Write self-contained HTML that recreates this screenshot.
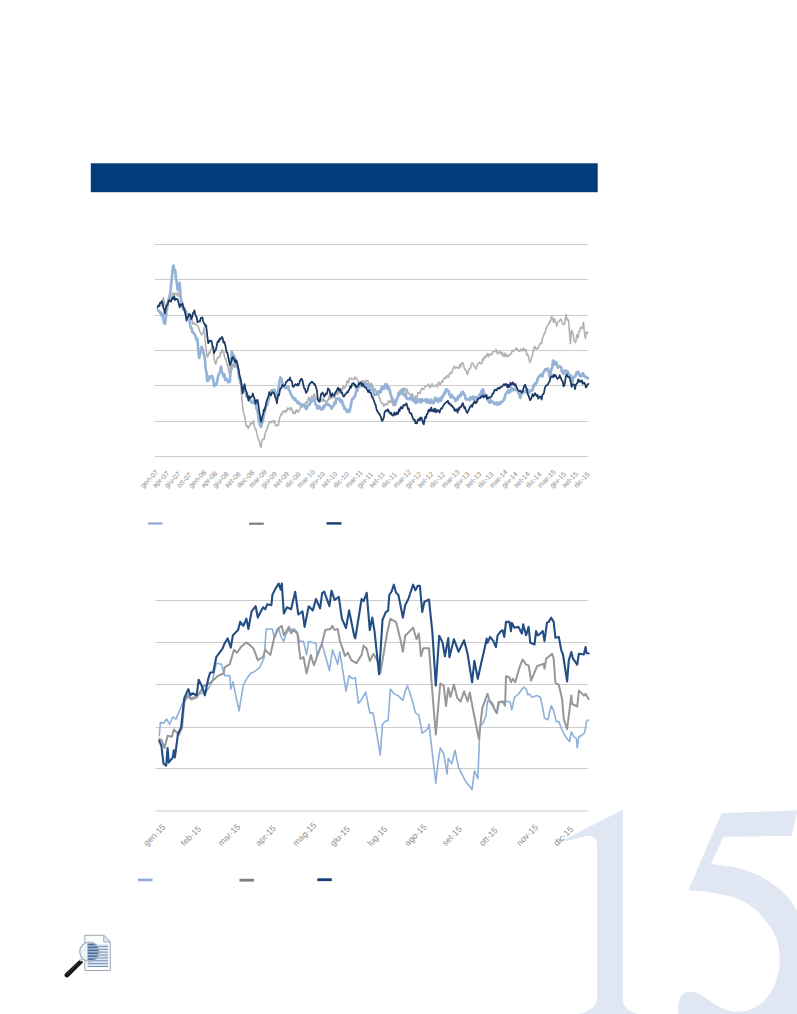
<!DOCTYPE html>
<html><head><meta charset="utf-8"><style>
html,body{margin:0;padding:0;background:#fff;width:797px;height:1014px;overflow:hidden;}
svg{position:absolute;left:0;top:0;display:block;}
</style></head><body>
<svg width="797" height="1014" viewBox="0 0 797 1014">

<path d="M622.90,809.50 L622.90,995.00 L622.93,995.67 L622.94,996.59 L622.95,997.67 L622.98,998.88 L623.04,1000.12 L623.15,1001.35 L623.33,1002.50 L623.60,1003.50 L623.96,1004.39 L624.38,1005.23 L624.86,1006.04 L625.41,1006.81 L626.00,1007.54 L626.63,1008.23 L627.30,1008.89 L628.00,1009.50 L628.75,1010.07 L629.57,1010.59 L630.43,1011.06 L631.34,1011.50 L632.26,1011.91 L633.19,1012.29 L634.11,1012.65 L635.00,1013.00 L635.92,1013.34 L636.91,1013.65 L637.93,1013.95 L638.94,1014.22 L639.89,1014.46 L640.74,1014.68 L641.46,1014.86 L642.00,1015.00 L642.00,1020.00 L574.00,1020.00 L574.00,1015.00 L574.62,1014.86 L575.44,1014.68 L576.41,1014.46 L577.50,1014.22 L578.65,1013.95 L579.81,1013.65 L580.95,1013.34 L582.00,1013.00 L583.02,1012.65 L584.05,1012.29 L585.10,1011.91 L586.14,1011.50 L587.16,1011.06 L588.15,1010.59 L589.11,1010.07 L590.00,1009.50 L590.86,1008.89 L591.71,1008.23 L592.53,1007.54 L593.31,1006.81 L594.04,1006.04 L594.71,1005.23 L595.30,1004.39 L595.80,1003.50 L596.20,1002.50 L596.49,1001.35 L596.71,1000.12 L596.86,998.88 L596.97,997.67 L597.05,996.59 L597.12,995.67 L597.20,995.00 L597.20,850.00 L597.19,849.36 L597.21,848.48 L597.22,847.43 L597.23,846.28 L597.22,845.10 L597.16,843.94 L597.06,842.89 L596.90,842.00 L596.68,841.25 L596.43,840.56 L596.14,839.93 L595.81,839.36 L595.43,838.83 L595.00,838.35 L594.53,837.90 L594.00,837.50 L593.41,837.13 L592.74,836.81 L592.02,836.52 L591.26,836.28 L590.46,836.09 L589.64,835.94 L588.82,835.85 L588.00,835.80 L587.12,835.84 L586.16,835.96 L585.14,836.16 L584.12,836.39 L583.16,836.64 L582.28,836.88 L581.55,837.07 L581.00,837.20 L565.00,841.60 L564.60,839.60 Z" fill="#e0e7f3"/>
<path d="M721.40,813.30 L797.50,810.30 L791.60,835.90 L723.70,836.80 L710.90,864.00 L711.55,864.08 L712.35,864.18 L713.30,864.30 L714.39,864.44 L715.61,864.59 L716.96,864.77 L718.42,864.97 L720.00,865.20 L721.73,865.43 L723.62,865.65 L725.66,865.89 L727.82,866.15 L730.06,866.46 L732.35,866.82 L734.68,867.26 L737.00,867.80 L739.39,868.43 L741.91,869.16 L744.50,869.95 L747.12,870.81 L749.73,871.71 L752.28,872.65 L754.72,873.62 L757.00,874.60 L759.12,875.59 L761.12,876.62 L763.04,877.67 L764.88,878.76 L766.67,879.88 L768.44,881.04 L770.21,882.25 L772.00,883.50 L773.82,884.79 L775.64,886.10 L777.46,887.45 L779.25,888.84 L781.01,890.28 L782.73,891.78 L784.40,893.35 L786.00,895.00 L787.54,896.73 L789.03,898.55 L790.48,900.43 L791.88,902.38 L793.23,904.37 L794.53,906.39 L795.79,908.44 L797.00,910.50 L798.20,912.71 L799.40,915.14 L800.57,917.69 L801.69,920.22 L802.72,922.63 L803.63,924.81 L804.40,926.64 L805.00,928.00 L805.00,1020.00 L678.00,1020.00 L678.50,1014.00 L678.47,1013.22 L678.41,1012.17 L678.33,1010.92 L678.26,1009.53 L678.21,1008.08 L678.20,1006.63 L678.26,1005.25 L678.40,1004.00 L678.60,1002.83 L678.85,1001.66 L679.13,1000.49 L679.47,999.36 L679.87,998.27 L680.34,997.25 L680.88,996.32 L681.50,995.50 L682.22,994.77 L683.05,994.12 L683.97,993.55 L684.94,993.04 L685.96,992.62 L686.99,992.27 L688.01,992.00 L689.00,991.80 L689.96,991.68 L690.92,991.64 L691.88,991.68 L692.84,991.79 L693.83,991.98 L694.85,992.25 L695.90,992.59 L697.00,993.00 L698.15,993.51 L699.34,994.14 L700.56,994.85 L701.81,995.64 L703.09,996.47 L704.38,997.32 L705.69,998.17 L707.00,999.00 L708.33,999.84 L709.68,1000.74 L711.05,1001.66 L712.44,1002.59 L713.83,1003.51 L715.23,1004.40 L716.62,1005.23 L718.00,1006.00 L719.37,1006.71 L720.74,1007.40 L722.11,1008.05 L723.48,1008.66 L724.85,1009.23 L726.22,1009.75 L727.61,1010.20 L729.00,1010.60 L730.41,1010.94 L731.82,1011.24 L733.25,1011.48 L734.68,1011.67 L736.11,1011.80 L737.54,1011.87 L738.97,1011.87 L740.40,1011.80 L741.82,1011.67 L743.23,1011.48 L744.64,1011.23 L746.05,1010.92 L747.47,1010.53 L748.89,1010.07 L750.34,1009.53 L751.80,1008.90 L753.31,1008.19 L754.86,1007.42 L756.44,1006.57 L758.02,1005.64 L759.59,1004.63 L761.12,1003.52 L762.60,1002.31 L764.00,1001.00 L765.35,999.56 L766.66,998.00 L767.94,996.33 L769.18,994.57 L770.36,992.74 L771.48,990.85 L772.53,988.94 L773.50,987.00 L774.40,985.03 L775.23,982.98 L776.01,980.89 L776.71,978.75 L777.35,976.58 L777.91,974.39 L778.40,972.19 L778.80,970.00 L779.12,967.79 L779.38,965.54 L779.55,963.26 L779.65,960.97 L779.67,958.68 L779.62,956.42 L779.50,954.19 L779.30,952.00 L779.03,949.86 L778.70,947.75 L778.29,945.66 L777.81,943.59 L777.24,941.55 L776.59,939.52 L775.84,937.50 L775.00,935.50 L774.04,933.49 L772.95,931.48 L771.76,929.48 L770.48,927.50 L769.15,925.55 L767.77,923.64 L766.38,921.79 L765.00,920.00 L763.62,918.27 L762.23,916.58 L760.82,914.94 L759.38,913.34 L757.88,911.80 L756.33,910.31 L754.71,908.87 L753.00,907.50 L751.22,906.18 L749.38,904.91 L747.47,903.69 L745.50,902.53 L743.47,901.43 L741.38,900.39 L739.22,899.41 L737.00,898.50 L734.67,897.67 L732.21,896.91 L729.66,896.22 L727.06,895.59 L724.46,895.02 L721.88,894.48 L719.38,893.98 L717.00,893.50 L714.70,893.06 L712.41,892.66 L710.17,892.30 L707.98,891.98 L705.85,891.70 L703.81,891.44 L701.85,891.21 L700.00,891.00 L698.20,890.82 L696.43,890.68 L694.71,890.57 L693.09,890.49 L691.60,890.43 L690.28,890.38 L689.17,890.34 L688.30,890.30 Z" fill="#e0e7f3"/>
<rect x="90.8" y="163.3" width="506.9" height="28.9" fill="#003d7a"/>
<line x1="154.5" y1="244.5" x2="588.3" y2="244.5" stroke="#cdcdcd" stroke-width="1"/>
<line x1="154.5" y1="279.5" x2="588.3" y2="279.5" stroke="#cdcdcd" stroke-width="1"/>
<line x1="154.5" y1="315.5" x2="588.3" y2="315.5" stroke="#cdcdcd" stroke-width="1"/>
<line x1="154.5" y1="350.5" x2="588.3" y2="350.5" stroke="#cdcdcd" stroke-width="1"/>
<line x1="154.5" y1="385.5" x2="588.3" y2="385.5" stroke="#cdcdcd" stroke-width="1"/>
<line x1="154.5" y1="421.5" x2="588.3" y2="421.5" stroke="#cdcdcd" stroke-width="1"/>
<line x1="154.5" y1="456.5" x2="588.3" y2="456.5" stroke="#cdcdcd" stroke-width="1"/>
<line x1="155.5" y1="600.5" x2="588.2" y2="600.5" stroke="#cdcdcd" stroke-width="1"/>
<line x1="155.5" y1="642.5" x2="588.2" y2="642.5" stroke="#cdcdcd" stroke-width="1"/>
<line x1="155.5" y1="684.5" x2="588.2" y2="684.5" stroke="#cdcdcd" stroke-width="1"/>
<line x1="155.5" y1="727.5" x2="588.2" y2="727.5" stroke="#cdcdcd" stroke-width="1"/>
<line x1="155.5" y1="768.5" x2="588.2" y2="768.5" stroke="#cdcdcd" stroke-width="1"/>
<line x1="155.5" y1="811.0" x2="588.2" y2="811.0" stroke="#cdcdcd" stroke-width="1"/>
<text x="143.30" y="488.2" transform="rotate(-45 143.30 488.2)" font-family="Liberation Sans" font-size="7.0" fill="#8a8a8a">gen-07</text>
<text x="155.34" y="488.2" transform="rotate(-45 155.34 488.2)" font-family="Liberation Sans" font-size="7.0" fill="#8a8a8a">apr-07</text>
<text x="167.38" y="488.2" transform="rotate(-45 167.38 488.2)" font-family="Liberation Sans" font-size="7.0" fill="#8a8a8a">giu-07</text>
<text x="179.42" y="488.2" transform="rotate(-45 179.42 488.2)" font-family="Liberation Sans" font-size="7.0" fill="#8a8a8a">ott-07</text>
<text x="191.46" y="488.2" transform="rotate(-45 191.46 488.2)" font-family="Liberation Sans" font-size="7.0" fill="#8a8a8a">gen-08</text>
<text x="203.50" y="488.2" transform="rotate(-45 203.50 488.2)" font-family="Liberation Sans" font-size="7.0" fill="#8a8a8a">apr-08</text>
<text x="215.54" y="488.2" transform="rotate(-45 215.54 488.2)" font-family="Liberation Sans" font-size="7.0" fill="#8a8a8a">giu-08</text>
<text x="227.58" y="488.2" transform="rotate(-45 227.58 488.2)" font-family="Liberation Sans" font-size="7.0" fill="#8a8a8a">set-08</text>
<text x="239.62" y="488.2" transform="rotate(-45 239.62 488.2)" font-family="Liberation Sans" font-size="7.0" fill="#8a8a8a">dec-08</text>
<text x="251.66" y="488.2" transform="rotate(-45 251.66 488.2)" font-family="Liberation Sans" font-size="7.0" fill="#8a8a8a">mar-09</text>
<text x="263.70" y="488.2" transform="rotate(-45 263.70 488.2)" font-family="Liberation Sans" font-size="7.0" fill="#8a8a8a">giu-09</text>
<text x="275.74" y="488.2" transform="rotate(-45 275.74 488.2)" font-family="Liberation Sans" font-size="7.0" fill="#8a8a8a">set-09</text>
<text x="287.78" y="488.2" transform="rotate(-45 287.78 488.2)" font-family="Liberation Sans" font-size="7.0" fill="#8a8a8a">dic-09</text>
<text x="299.82" y="488.2" transform="rotate(-45 299.82 488.2)" font-family="Liberation Sans" font-size="7.0" fill="#8a8a8a">mar-10</text>
<text x="311.86" y="488.2" transform="rotate(-45 311.86 488.2)" font-family="Liberation Sans" font-size="7.0" fill="#8a8a8a">giu-10</text>
<text x="323.90" y="488.2" transform="rotate(-45 323.90 488.2)" font-family="Liberation Sans" font-size="7.0" fill="#8a8a8a">set-10</text>
<text x="335.94" y="488.2" transform="rotate(-45 335.94 488.2)" font-family="Liberation Sans" font-size="7.0" fill="#8a8a8a">dic-10</text>
<text x="347.98" y="488.2" transform="rotate(-45 347.98 488.2)" font-family="Liberation Sans" font-size="7.0" fill="#8a8a8a">mar-11</text>
<text x="360.02" y="488.2" transform="rotate(-45 360.02 488.2)" font-family="Liberation Sans" font-size="7.0" fill="#8a8a8a">giu-11</text>
<text x="372.06" y="488.2" transform="rotate(-45 372.06 488.2)" font-family="Liberation Sans" font-size="7.0" fill="#8a8a8a">set-11</text>
<text x="384.10" y="488.2" transform="rotate(-45 384.10 488.2)" font-family="Liberation Sans" font-size="7.0" fill="#8a8a8a">dic-11</text>
<text x="396.14" y="488.2" transform="rotate(-45 396.14 488.2)" font-family="Liberation Sans" font-size="7.0" fill="#8a8a8a">mar-12</text>
<text x="408.18" y="488.2" transform="rotate(-45 408.18 488.2)" font-family="Liberation Sans" font-size="7.0" fill="#8a8a8a">giu-12</text>
<text x="420.22" y="488.2" transform="rotate(-45 420.22 488.2)" font-family="Liberation Sans" font-size="7.0" fill="#8a8a8a">set-12</text>
<text x="432.26" y="488.2" transform="rotate(-45 432.26 488.2)" font-family="Liberation Sans" font-size="7.0" fill="#8a8a8a">dic-12</text>
<text x="444.30" y="488.2" transform="rotate(-45 444.30 488.2)" font-family="Liberation Sans" font-size="7.0" fill="#8a8a8a">mar-13</text>
<text x="456.34" y="488.2" transform="rotate(-45 456.34 488.2)" font-family="Liberation Sans" font-size="7.0" fill="#8a8a8a">giu-13</text>
<text x="468.38" y="488.2" transform="rotate(-45 468.38 488.2)" font-family="Liberation Sans" font-size="7.0" fill="#8a8a8a">set-13</text>
<text x="480.42" y="488.2" transform="rotate(-45 480.42 488.2)" font-family="Liberation Sans" font-size="7.0" fill="#8a8a8a">dic-13</text>
<text x="492.46" y="488.2" transform="rotate(-45 492.46 488.2)" font-family="Liberation Sans" font-size="7.0" fill="#8a8a8a">mar-14</text>
<text x="504.50" y="488.2" transform="rotate(-45 504.50 488.2)" font-family="Liberation Sans" font-size="7.0" fill="#8a8a8a">giu-14</text>
<text x="516.54" y="488.2" transform="rotate(-45 516.54 488.2)" font-family="Liberation Sans" font-size="7.0" fill="#8a8a8a">set-14</text>
<text x="528.58" y="488.2" transform="rotate(-45 528.58 488.2)" font-family="Liberation Sans" font-size="7.0" fill="#8a8a8a">dic-14</text>
<text x="540.62" y="488.2" transform="rotate(-45 540.62 488.2)" font-family="Liberation Sans" font-size="7.0" fill="#8a8a8a">mar-15</text>
<text x="552.66" y="488.2" transform="rotate(-45 552.66 488.2)" font-family="Liberation Sans" font-size="7.0" fill="#8a8a8a">giu-15</text>
<text x="564.70" y="488.2" transform="rotate(-45 564.70 488.2)" font-family="Liberation Sans" font-size="7.0" fill="#8a8a8a">set-15</text>
<text x="576.74" y="488.2" transform="rotate(-45 576.74 488.2)" font-family="Liberation Sans" font-size="7.0" fill="#8a8a8a">dic-15</text>
<text x="147.00" y="846.5" transform="rotate(-45 147.00 846.5)" font-family="Liberation Sans" font-size="8.6" fill="#8c8c8c">gen-15</text>
<text x="184.30" y="846.5" transform="rotate(-45 184.30 846.5)" font-family="Liberation Sans" font-size="8.6" fill="#8c8c8c">feb-15</text>
<text x="221.60" y="846.5" transform="rotate(-45 221.60 846.5)" font-family="Liberation Sans" font-size="8.6" fill="#8c8c8c">mar-15</text>
<text x="258.90" y="846.5" transform="rotate(-45 258.90 846.5)" font-family="Liberation Sans" font-size="8.6" fill="#8c8c8c">apr-15</text>
<text x="296.20" y="846.5" transform="rotate(-45 296.20 846.5)" font-family="Liberation Sans" font-size="8.6" fill="#8c8c8c">mag-15</text>
<text x="333.50" y="846.5" transform="rotate(-45 333.50 846.5)" font-family="Liberation Sans" font-size="8.6" fill="#8c8c8c">giu-15</text>
<text x="370.80" y="846.5" transform="rotate(-45 370.80 846.5)" font-family="Liberation Sans" font-size="8.6" fill="#8c8c8c">lug-15</text>
<text x="408.10" y="846.5" transform="rotate(-45 408.10 846.5)" font-family="Liberation Sans" font-size="8.6" fill="#8c8c8c">ago-15</text>
<text x="445.40" y="846.5" transform="rotate(-45 445.40 846.5)" font-family="Liberation Sans" font-size="8.6" fill="#8c8c8c">set-15</text>
<text x="482.70" y="846.5" transform="rotate(-45 482.70 846.5)" font-family="Liberation Sans" font-size="8.6" fill="#8c8c8c">ott-15</text>
<text x="520.00" y="846.5" transform="rotate(-45 520.00 846.5)" font-family="Liberation Sans" font-size="8.6" fill="#8c8c8c">nov-15</text>
<text x="557.30" y="846.5" transform="rotate(-45 557.30 846.5)" font-family="Liberation Sans" font-size="8.6" fill="#8c8c8c">dic-15</text>
<polyline points="160.8,306.0 161.7,304.0 162.5,300.0 163.4,297.7 164.2,302.5 165.0,304.6 165.8,308.7 166.5,309.5 167.2,304.2 168.0,300.9 168.7,301.4 169.5,298.4 170.4,298.9 171.2,296.4 172.1,296.0 172.9,292.8 173.8,293.9 174.6,294.1 175.3,293.2 176.1,294.5 176.8,294.8 177.6,292.5 178.3,295.9 179.1,295.9 179.8,295.0 180.6,294.2 181.6,300.8 182.5,302.3 183.3,305.1 184.1,307.7 184.9,308.7 185.7,311.4 186.5,310.8 187.3,314.2 188.1,314.5 188.8,318.4 189.6,320.2 190.4,318.3 191.2,318.8 192.0,319.9 192.8,324.1 193.6,322.7 194.4,324.0 195.1,323.3 195.9,324.8 196.7,325.0 197.5,325.5 198.3,327.2 199.1,328.8 199.8,331.8 200.6,332.4 201.3,334.9 202.0,333.7 202.8,333.3 203.5,330.9 204.2,327.5 204.9,337.3 205.7,345.0 206.4,351.7 207.2,357.0 208.0,356.1 208.9,352.4 209.7,353.7 210.5,351.3 211.3,348.5 212.2,345.9 213.0,348.0 214.0,357.9 215.0,362.7 215.8,364.0 216.6,360.9 217.4,358.0 218.2,357.0 219.0,357.6 219.8,357.1 220.6,352.2 221.4,353.3 222.2,349.7 223.0,351.4 223.7,351.9 224.4,356.2 225.2,358.9 225.9,358.8 226.7,364.4 227.5,364.9 228.2,367.1 229.0,372.9 229.8,374.1 230.6,372.1 231.3,370.7 232.1,369.2 232.8,364.8 233.6,363.7 234.4,367.1 235.2,364.6 236.1,367.1 236.9,366.7 237.7,364.0 238.4,369.1 239.2,374.3 239.9,379.8 240.7,384.5 241.6,395.2 242.6,406.4 243.4,412.2 244.2,414.7 245.0,418.5 245.8,424.1 246.6,426.4 247.4,425.9 248.3,428.5 249.1,426.1 250.0,425.5 250.8,422.5 251.7,423.5 252.5,423.9 253.5,420.6 254.3,425.9 255.1,429.0 256.0,429.1 256.8,434.2 257.6,436.5 258.5,439.8 259.3,440.9 260.1,444.8 261.0,447.5 261.8,441.7 262.7,439.1 263.5,439.4 264.4,438.6 265.2,433.0 266.0,431.4 266.8,429.9 267.7,426.5 268.5,424.3 269.3,421.9 270.1,421.8 271.0,422.6 271.8,421.1 272.7,421.0 273.5,422.6 274.3,420.5 275.1,423.8 276.0,425.9 276.8,425.1 277.6,425.6 278.5,425.1 279.4,419.7 280.2,416.1 281.1,414.0 281.9,414.7 282.7,411.4 283.5,411.5 284.3,410.9 285.1,412.5 285.9,410.3 286.7,411.6 287.5,408.1 288.3,408.1 289.1,409.1 289.9,409.9 290.7,407.6 291.4,408.2 292.1,409.5 292.8,413.1 293.6,411.4 294.4,413.7 295.2,413.7 295.9,410.3 296.7,410.1 297.5,412.1 298.3,411.2 299.1,411.1 300.0,408.2 300.8,406.2 301.7,406.0 302.5,407.5 303.3,404.6 304.1,403.9 304.9,403.4 305.6,402.7 306.4,401.8 307.2,403.4 308.0,399.3 308.8,397.3 309.6,400.5 310.4,399.7 311.1,399.2 311.9,395.7 312.7,396.9 313.5,396.0 314.2,393.8 314.9,396.9 315.6,398.6 316.3,398.9 317.1,398.7 317.9,398.1 318.8,398.8 319.6,398.8 320.4,398.6 321.2,400.7 322.0,399.4 322.8,401.5 323.5,398.0 324.3,401.4 325.1,400.6 325.9,401.5 326.7,401.2 327.5,401.0 328.3,399.4 329.0,396.4 329.8,399.3 330.6,396.8 331.4,396.9 332.2,398.0 333.0,397.0 333.8,395.8 334.6,397.6 335.4,395.7 336.2,393.7 337.0,392.6 337.8,394.6 338.5,392.3 339.3,392.8 340.1,390.2 340.8,388.5 341.6,389.2 342.4,389.9 343.1,386.3 343.9,388.1 344.7,388.0 345.5,386.5 346.3,385.6 347.0,380.9 347.8,382.4 348.6,382.7 349.4,378.1 350.2,378.5 351.1,378.3 351.9,379.2 352.8,378.6 353.6,378.5 354.5,379.7 355.2,377.1 356.0,377.9 356.8,379.1 357.5,380.0 358.2,380.6 359.0,385.7 359.8,385.1 360.5,381.2 361.3,382.4 362.1,381.3 362.8,380.8 363.6,380.6 364.3,381.6 365.1,381.1 365.9,380.6 366.6,380.3 367.4,381.4 368.1,381.1 368.9,383.5 369.6,385.1 370.4,384.2 371.1,383.2 371.9,384.3 372.6,385.9 373.4,387.9 374.1,389.5 374.9,388.5 375.6,391.0 376.4,391.1 377.1,391.0 377.9,392.6 378.6,395.1 379.4,398.1 380.1,398.9 380.9,402.1 381.6,403.1 382.4,402.8 383.1,404.7 383.9,406.4 384.6,404.3 385.4,404.7 386.1,403.8 386.9,404.9 387.6,404.4 388.4,400.8 389.1,402.0 389.9,402.5 390.6,400.8 391.4,402.2 392.2,401.4 392.9,405.2 393.7,405.6 394.4,404.8 395.2,402.7 395.9,400.4 396.7,398.9 397.4,396.4 398.2,392.4 398.9,393.9 399.7,390.8 400.4,390.6 401.2,393.0 401.9,389.4 402.7,388.7 403.4,388.2 404.2,391.2 404.9,388.8 405.7,388.1 406.4,392.2 407.2,389.6 407.9,393.0 408.7,392.9 409.4,394.0 410.2,394.9 410.9,394.3 411.7,396.1 412.4,393.7 413.2,397.7 413.9,397.9 414.7,399.7 415.5,396.0 416.2,397.7 417.0,397.8 417.8,392.9 418.5,392.7 419.3,392.9 420.1,393.5 420.8,390.2 421.6,388.9 422.3,388.4 423.1,389.4 423.8,389.4 424.6,387.1 425.3,386.1 426.1,386.0 426.8,385.6 427.6,385.7 428.3,384.0 429.1,385.6 429.8,387.7 430.6,385.2 431.3,386.3 432.1,383.8 432.8,385.9 433.6,386.5 434.3,386.1 435.1,385.4 435.8,385.1 436.6,385.9 437.3,387.1 438.1,383.2 438.8,382.0 439.6,384.4 440.3,384.9 441.1,382.6 441.8,381.5 442.6,382.2 443.3,379.3 444.1,378.6 444.8,377.6 445.6,378.6 446.4,376.8 447.1,375.5 447.9,376.8 448.6,377.3 449.4,373.5 450.1,374.2 450.9,372.0 451.6,373.0 452.4,371.0 453.1,368.5 453.9,367.2 454.6,366.3 455.4,368.3 456.1,368.0 456.9,367.0 457.6,367.8 458.4,367.7 459.2,368.5 460.0,364.4 460.8,366.7 461.6,363.4 462.4,362.5 463.2,363.8 464.0,367.3 464.9,369.3 465.7,370.0 466.5,371.5 467.3,374.4 468.1,373.2 468.9,369.2 469.8,368.6 470.6,367.8 471.4,363.7 472.2,362.9 473.0,363.4 473.9,366.1 474.7,366.7 475.5,368.5 476.3,368.7 477.1,365.1 477.9,363.7 478.8,363.2 479.6,362.1 480.4,363.6 481.2,363.7 482.0,362.8 482.9,358.6 483.7,359.9 484.5,356.4 485.3,356.3 486.1,357.5 486.9,354.3 487.7,353.7 488.6,356.8 489.4,354.3 490.2,354.0 491.0,354.8 491.8,355.0 492.6,351.6 493.4,352.0 494.2,351.8 495.1,351.3 495.9,349.3 496.7,351.4 497.5,353.8 498.4,351.9 499.2,352.9 500.0,351.5 500.8,352.6 501.6,354.6 502.4,352.4 503.2,355.9 504.0,356.5 504.9,353.0 505.7,356.7 506.5,354.6 507.3,356.4 508.1,356.6 508.9,354.7 509.7,355.1 510.5,354.1 511.3,353.7 512.2,350.2 513.0,351.1 513.8,351.1 514.6,350.1 515.4,349.6 516.2,347.8 517.0,349.5 517.9,349.3 518.7,351.1 519.5,351.3 520.3,351.0 521.1,348.9 521.9,350.6 522.8,350.4 523.6,348.1 524.4,350.8 525.2,349.8 526.0,349.4 526.8,355.1 527.7,354.0 528.5,356.7 529.3,360.7 530.1,362.5 530.9,359.7 531.7,357.5 532.6,354.0 533.4,350.6 534.2,347.3 535.0,346.4 535.8,349.0 536.7,349.2 537.5,347.9 538.3,348.4 539.1,345.5 540.0,343.7 540.8,343.0 541.6,344.0 542.4,338.0 543.2,337.3 544.0,333.9 544.8,333.7 545.6,330.1 546.4,327.9 547.3,326.2 548.1,324.9 548.9,324.1 549.7,321.0 550.5,321.8 551.2,317.4 552.0,316.6 552.8,319.1 553.5,322.4 554.6,318.8 555.3,322.2 556.1,323.0 556.8,326.0 557.4,323.5 558.0,321.6 558.9,321.4 559.7,320.5 560.6,319.1 561.3,319.4 562.1,322.7 562.8,324.3 563.6,324.6 564.5,323.8 565.4,318.3 566.2,314.5 566.9,319.6 567.5,319.0 568.6,321.0 569.5,332.6 570.4,343.8 571.4,330.2 572.0,331.5 572.6,332.4 573.3,335.7 574.0,340.3 574.8,341.8 575.5,342.6 576.1,340.6 576.8,334.7 577.5,336.0 578.2,337.6 579.0,331.1 579.7,331.0 580.5,327.5 581.2,327.6 582.0,328.6 582.7,325.9 583.4,322.3 584.4,332.1 585.4,338.4 586.5,331.8 587.2,333.0 588.0,332.6" fill="none" stroke="#b2b2b2" stroke-width="1.6" stroke-linejoin="round" stroke-linecap="round"/>
<polyline points="157.9,309.8 158.6,310.8 159.4,311.6 160.1,312.8 160.8,312.4 161.6,315.6 162.4,313.9 163.2,317.9 164.0,322.6 164.8,323.9 165.6,320.2 166.4,311.9 167.1,308.5 167.9,302.8 168.7,299.4 169.7,295.7 170.7,289.2 171.6,280.7 172.4,271.8 173.3,265.6 174.2,269.2 175.2,270.3 176.0,278.8 176.8,282.0 177.6,289.8 178.6,285.8 179.6,283.0 180.6,296.8 181.5,304.0 182.2,304.8 183.0,309.3 183.8,310.1 184.5,308.4 185.3,312.9 186.1,312.9 186.9,315.0 187.8,314.5 188.6,319.3 189.4,320.1 190.2,324.7 190.9,327.9 191.7,328.6 192.4,332.1 193.2,332.5 194.0,333.6 194.9,334.6 195.7,336.9 196.5,339.7 197.3,338.5 198.3,350.2 199.3,357.8 200.1,353.6 200.8,351.9 201.6,346.6 202.5,348.4 203.3,351.7 204.2,355.4 204.9,359.0 205.7,369.3 206.4,371.7 207.2,381.0 208.0,381.0 208.8,376.5 209.5,378.9 210.3,376.5 211.1,376.5 211.9,375.9 212.7,377.8 213.4,380.4 214.2,386.0 215.0,384.8 215.8,384.8 216.5,383.7 217.2,381.6 218.0,376.7 218.8,374.2 219.5,372.8 220.2,371.8 221.0,366.6 221.8,371.2 222.6,373.7 223.4,376.0 224.3,374.2 225.1,380.0 225.9,378.4 226.7,379.2 227.5,380.5 228.2,382.1 229.0,379.6 229.8,382.0 230.8,366.7 231.8,351.7 232.6,353.6 233.4,354.9 234.2,356.4 235.1,358.6 235.9,363.1 236.7,366.8 237.5,367.0 238.3,370.0 239.1,378.2 239.9,380.4 240.7,383.6 241.5,384.3 242.3,387.3 243.2,390.0 244.0,389.9 244.8,391.2 245.6,391.1 246.4,396.5 247.2,394.4 248.0,397.8 248.8,400.1 249.7,397.7 250.5,400.7 251.3,402.6 252.2,401.9 253.0,403.1 253.8,400.6 254.7,402.4 255.5,401.8 256.3,408.3 257.1,409.4 257.9,413.3 258.6,419.2 259.4,422.1 260.2,426.0 261.0,427.0 261.7,424.2 262.4,422.5 263.1,418.7 263.8,414.9 264.6,412.1 265.5,407.6 266.3,405.3 267.2,404.9 268.0,401.7 268.8,398.6 269.6,396.3 270.4,393.9 271.1,391.1 271.9,390.2 272.7,391.1 273.5,390.1 274.4,389.9 275.2,393.7 276.0,395.9 276.9,397.6 277.8,392.5 278.6,387.9 279.5,381.1 280.4,377.5 281.3,378.6 282.2,382.4 283.1,386.7 283.9,386.8 284.8,385.2 285.6,388.3 286.5,387.5 287.3,387.4 288.1,386.4 289.0,390.3 289.9,390.9 290.7,394.5 291.6,394.7 292.4,397.3 293.3,397.8 294.2,399.5 295.0,398.3 295.8,400.2 296.7,401.6 297.5,402.9 298.3,401.6 299.1,403.9 300.0,404.5 300.8,404.0 301.7,405.5 302.5,405.8 303.4,404.8 304.2,405.7 305.0,405.1 305.9,409.0 306.8,408.7 307.6,405.7 308.5,405.4 309.4,404.6 310.2,403.6 311.0,399.9 311.9,401.4 312.7,399.6 313.5,398.8 314.3,399.6 315.1,402.4 316.0,405.1 316.8,406.4 317.6,408.7 318.4,405.8 319.3,406.4 320.1,408.0 321.0,409.4 321.8,407.8 322.6,409.1 323.4,408.5 324.2,405.2 324.9,406.3 325.7,404.8 326.5,403.3 327.3,403.0 328.1,404.7 328.9,405.0 329.8,405.8 330.6,405.9 331.4,408.6 332.2,407.0 333.0,406.7 333.8,405.3 334.6,402.4 335.4,403.9 336.2,398.6 337.0,398.8 337.8,398.6 338.6,399.4 339.5,398.4 340.3,401.8 341.1,400.3 342.0,400.6 342.8,405.2 343.6,405.1 344.5,409.0 345.3,408.5 346.1,409.8 346.9,411.8 347.8,411.6 348.6,410.0 349.4,411.8 350.3,408.0 351.2,403.4 352.1,399.0 352.9,399.1 353.7,397.2 354.4,397.1 355.2,395.5 356.0,391.9 356.8,389.5 357.5,390.7 358.2,385.7 359.0,384.7 359.8,386.3 360.5,386.2 361.3,383.6 362.1,385.1 362.8,386.0 363.6,383.3 364.4,383.5 365.1,382.8 365.9,383.2 366.6,386.5 367.4,384.3 368.1,386.9 368.9,387.1 369.6,385.9 370.4,385.5 371.1,389.9 371.9,389.3 372.6,390.1 373.4,390.9 374.1,395.2 374.9,394.6 375.6,394.7 376.4,394.7 377.1,392.4 377.9,393.8 378.6,392.5 379.4,391.0 380.1,392.4 380.9,392.0 381.6,387.4 382.4,388.6 383.1,386.7 383.9,388.8 384.6,387.5 385.4,384.2 386.1,384.6 386.9,384.7 387.6,389.1 388.4,386.9 389.1,388.6 389.9,390.8 390.6,394.1 391.4,396.6 392.2,399.9 392.9,398.6 393.7,402.7 394.4,402.4 395.2,404.8 395.9,401.9 396.7,399.5 397.4,398.4 398.2,396.1 398.9,393.5 399.7,394.7 400.4,393.5 401.2,390.3 401.9,390.5 402.7,390.9 403.4,394.3 404.2,395.7 404.9,395.4 405.7,394.0 406.4,398.5 407.2,398.5 407.9,398.8 408.7,399.2 409.4,398.7 410.2,397.7 410.9,399.3 411.7,396.9 412.4,397.8 413.2,401.0 413.9,399.3 414.7,400.6 415.5,402.9 416.2,399.3 417.0,402.3 417.8,401.7 418.5,400.2 419.3,399.2 420.1,401.5 420.8,402.4 421.6,399.1 422.3,400.4 423.1,400.9 423.8,400.8 424.6,400.1 425.3,399.3 426.1,401.3 426.8,402.6 427.6,399.4 428.3,399.9 429.1,402.8 429.8,403.0 430.6,402.5 431.3,399.6 432.1,402.1 432.8,403.3 433.6,403.1 434.3,401.4 435.1,397.9 435.8,400.9 436.6,398.5 437.3,400.3 438.1,402.0 438.8,401.2 439.6,398.5 440.3,399.1 441.1,400.9 441.8,396.5 442.6,397.2 443.4,395.3 444.1,393.0 444.9,393.9 445.6,390.3 446.4,389.2 447.1,391.2 447.9,390.7 448.6,391.2 449.4,394.3 450.1,396.1 450.9,397.6 451.6,394.8 452.4,396.4 453.1,396.5 453.9,398.3 454.6,398.5 455.4,401.1 456.1,399.3 456.9,398.1 457.7,399.6 458.4,396.1 459.2,396.8 459.9,395.1 460.7,395.7 461.4,392.9 462.2,391.8 463.1,391.8 463.9,394.6 464.8,395.0 465.6,398.8 466.4,399.6 467.3,399.4 468.1,399.1 468.9,399.1 469.8,400.2 470.6,397.2 471.4,398.7 472.2,399.0 473.0,396.6 473.9,399.3 474.7,397.1 475.5,397.3 476.3,399.7 477.1,397.3 477.9,399.1 478.7,396.5 479.6,394.6 480.4,395.7 481.2,391.3 482.0,393.2 482.8,389.3 483.6,390.7 484.4,395.6 485.3,396.0 486.1,395.0 486.9,395.5 487.8,400.6 488.6,400.8 489.4,402.7 490.2,400.0 491.0,402.3 491.8,401.7 492.6,401.5 493.5,402.3 494.3,404.0 495.1,403.3 495.9,403.8 496.7,402.3 497.5,404.9 498.3,404.0 499.1,404.2 500.0,402.2 500.8,403.5 501.6,401.8 502.4,401.6 503.2,400.3 504.0,399.8 504.8,397.1 505.6,394.3 506.5,392.6 507.3,392.1 508.1,390.2 508.9,392.9 509.7,390.8 510.5,391.4 511.3,387.5 512.2,388.8 513.0,390.4 513.8,388.8 514.6,388.9 515.4,389.9 516.2,389.3 517.0,390.4 517.9,391.4 518.7,393.4 519.5,394.6 520.3,397.9 521.1,394.2 521.9,393.7 522.8,393.2 523.6,392.1 524.4,392.0 525.2,391.2 526.1,391.7 526.9,389.1 527.7,392.8 528.5,390.3 529.3,392.5 530.2,391.3 531.0,390.9 531.8,389.7 532.6,390.4 533.4,385.4 534.2,386.3 535.1,383.4 535.9,383.7 536.7,382.7 537.5,379.1 538.3,378.0 539.1,376.2 540.0,376.0 540.8,374.4 541.6,374.8 542.4,376.5 543.2,373.0 543.9,371.4 544.7,371.0 545.4,369.2 546.2,370.1 546.9,369.2 547.6,368.4 548.4,370.2 549.1,373.9 549.9,377.1 550.7,372.8 551.5,368.7 552.2,368.0 553.0,360.7 553.8,361.0 554.6,364.7 555.5,363.7 556.3,362.3 557.1,364.8 557.9,367.5 558.7,366.6 559.5,366.7 560.3,366.6 561.2,367.4 562.0,372.3 562.8,371.9 563.6,374.1 564.4,370.5 565.2,371.2 566.0,370.7 566.8,372.4 567.6,371.3 568.4,373.1 569.2,375.0 570.0,375.7 570.9,375.6 571.7,376.5 572.5,381.8 573.3,377.5 574.1,377.6 575.0,376.2 575.8,375.7 576.6,372.6 577.4,372.4 578.2,371.8 579.0,373.9 579.8,376.1 580.7,375.1 581.5,376.4 582.3,373.9 583.1,373.1 583.9,375.9 584.7,376.3 585.6,377.2 586.4,376.8 587.2,378.4 588.0,378.3" fill="none" stroke="#95b3d7" stroke-width="2.7" stroke-linejoin="round" stroke-linecap="round"/>
<polyline points="157.5,307.5 158.4,305.4 159.2,306.1 160.1,302.6 160.9,303.0 161.8,301.1 162.6,302.9 163.3,307.7 164.1,309.0 164.8,313.6 165.5,309.5 166.2,306.8 167.0,305.5 167.7,304.6 168.5,301.0 169.3,300.2 170.1,301.0 170.9,301.6 171.7,299.3 172.5,297.5 173.3,299.0 174.2,296.2 175.0,300.1 175.9,298.8 176.7,298.9 177.6,299.5 178.6,302.8 179.6,307.4 180.3,304.5 181.1,305.4 181.8,305.3 182.5,303.7 183.3,307.5 184.1,308.7 184.9,311.6 185.7,315.4 186.5,320.6 187.2,318.3 187.9,316.2 188.7,315.9 189.4,313.9 190.4,315.2 191.4,319.2 192.2,317.0 192.9,313.1 193.7,312.4 194.4,310.3 195.2,314.3 196.0,316.4 196.7,317.1 197.5,322.4 198.3,321.6 199.1,321.3 199.9,321.5 200.8,317.9 201.6,317.8 202.4,317.4 203.1,321.2 203.9,323.2 204.7,323.8 205.4,326.3 206.2,325.4 207.2,335.1 208.2,343.2 208.9,342.1 209.6,340.6 210.4,341.1 211.1,340.7 211.8,342.2 212.6,346.3 213.3,347.3 214.0,353.2 214.8,351.0 215.6,350.3 216.4,347.6 217.2,343.1 218.0,341.1 218.8,341.8 219.6,338.6 220.4,339.5 221.2,337.9 222.0,336.9 222.7,338.2 223.4,342.6 224.2,341.7 224.9,343.5 225.7,347.2 226.5,352.4 227.4,352.4 228.2,356.8 229.0,360.5 229.8,365.0 230.6,363.4 231.3,362.1 232.1,358.2 232.8,357.1 233.6,357.8 234.4,361.0 235.1,362.5 235.9,360.2 236.7,360.9 237.5,364.7 238.3,368.2 239.1,372.8 239.9,376.9 240.7,379.1 241.6,384.8 242.6,393.3 243.6,388.3 244.6,384.2 245.4,389.1 246.2,391.3 247.0,393.6 247.8,397.2 248.6,400.6 249.3,396.4 250.0,398.1 250.7,397.2 251.4,396.9 252.1,395.9 252.8,393.5 253.7,396.6 254.6,398.6 255.5,403.9 256.2,401.0 256.9,400.1 257.6,400.0 258.5,405.5 259.3,412.0 260.1,416.5 261.0,421.9 261.7,419.4 262.4,416.2 263.1,414.1 263.8,409.7 264.6,410.6 265.4,407.3 266.2,402.7 266.9,400.3 267.7,398.2 268.5,395.7 269.3,392.2 270.2,394.8 271.1,395.3 271.9,392.8 272.8,392.3 273.6,392.6 274.4,394.4 275.3,397.4 276.1,399.1 276.9,403.4 277.6,398.1 278.3,394.5 279.0,395.5 279.7,391.4 280.5,388.3 281.3,388.4 282.2,385.0 283.0,385.5 283.8,386.2 284.6,385.4 285.5,384.1 286.3,381.6 287.2,381.3 288.0,379.9 289.0,380.3 290.0,377.5 290.7,380.5 291.4,380.8 292.1,382.2 292.8,386.7 293.7,386.8 294.6,385.4 295.5,384.3 296.2,385.0 296.9,385.3 297.6,383.8 298.3,385.5 299.2,383.5 300.1,380.7 300.9,379.2 301.8,378.9 302.6,381.1 303.4,385.1 304.3,388.6 305.1,388.9 305.9,392.9 306.8,391.9 307.6,390.4 308.5,386.5 309.4,384.3 310.2,383.4 311.0,382.5 311.9,381.7 312.7,382.6 313.5,383.1 314.2,384.4 314.9,384.2 315.6,386.2 316.3,388.2 317.0,390.8 317.6,398.5 318.3,400.7 319.0,401.2 319.7,401.9 320.4,398.0 321.1,393.8 321.8,393.5 322.6,392.5 323.5,395.0 324.4,396.6 325.2,395.0 325.9,393.4 326.6,394.3 327.3,392.2 328.0,388.4 328.9,389.4 329.7,390.8 330.5,395.4 331.4,396.6 332.2,393.3 333.1,395.3 333.9,395.7 334.8,393.8 335.6,391.9 336.4,391.7 337.2,389.2 338.1,387.7 338.9,390.9 339.7,389.1 340.5,389.9 341.3,392.9 342.1,392.4 342.9,395.4 343.7,396.7 344.5,395.5 345.3,394.4 346.2,393.4 347.0,392.1 347.9,392.4 348.7,390.1 349.6,388.9 350.4,386.1 351.2,387.5 352.1,383.7 353.0,383.3 353.8,383.2 354.6,385.6 355.3,384.6 356.1,387.5 356.8,386.9 357.6,386.3 358.3,385.7 359.1,383.0 359.8,383.9 360.6,383.2 361.3,382.5 362.1,385.9 362.8,383.8 363.6,385.0 364.4,387.0 365.1,387.4 365.9,387.3 366.6,388.9 367.4,390.0 368.1,391.9 368.9,390.0 369.6,392.5 370.4,392.3 371.1,393.2 371.8,396.7 372.6,397.3 373.3,399.0 374.1,401.3 374.8,403.5 375.6,404.7 376.3,408.2 377.1,410.9 377.9,411.9 378.6,413.6 379.4,413.7 380.1,415.4 380.9,416.7 381.6,420.1 382.4,420.8 383.1,419.2 383.9,417.3 384.6,412.2 385.4,410.9 386.1,410.4 386.9,411.2 387.6,409.4 388.4,410.2 389.1,412.6 389.9,412.3 390.6,414.0 391.4,413.0 392.1,415.1 392.9,415.4 393.7,415.6 394.4,412.5 395.2,414.6 395.9,414.6 396.7,412.4 397.4,414.1 398.2,413.6 398.9,409.4 399.7,411.1 400.4,407.9 401.2,406.9 402.0,408.7 402.7,407.9 403.5,404.8 404.2,405.3 405.0,405.4 405.7,404.4 406.5,403.4 407.2,405.7 408.0,409.3 408.8,408.5 409.5,412.3 410.4,413.6 411.2,413.3 412.1,415.9 413.0,418.7 413.8,419.9 414.7,419.5 415.5,423.2 416.2,422.7 417.0,423.4 417.7,419.9 418.5,420.2 419.3,418.3 420.0,420.3 420.8,417.4 421.6,417.8 422.3,420.1 423.1,423.4 423.8,424.3 424.6,419.7 425.3,416.7 426.1,417.7 426.8,414.3 427.6,413.9 428.3,410.7 429.1,409.5 429.8,411.4 430.6,409.8 431.3,407.5 432.1,411.2 432.8,410.5 433.6,411.4 434.3,408.7 435.1,411.9 435.8,409.1 436.6,412.2 437.3,410.7 438.1,410.1 438.8,411.0 439.6,412.6 440.3,410.0 441.1,408.2 442.0,408.7 442.8,406.7 443.7,405.0 444.5,404.1 445.4,402.7 446.2,402.3 447.1,401.8 447.9,400.8 448.6,403.7 449.4,403.0 450.1,404.7 450.9,404.5 451.6,406.1 452.4,405.8 453.1,407.7 453.9,407.8 454.6,410.9 455.4,410.6 456.1,409.2 456.9,410.4 457.6,412.6 458.4,408.2 459.1,409.8 459.9,407.4 460.6,406.4 461.4,406.8 462.1,404.0 462.9,403.2 463.6,405.5 464.4,408.3 465.1,407.3 465.9,410.6 466.6,411.8 467.4,413.0 468.2,410.9 469.0,409.5 469.8,407.2 470.6,406.4 471.4,405.1 472.2,406.8 473.0,404.1 473.8,402.5 474.7,401.2 475.5,403.3 476.3,402.8 477.1,401.5 477.9,399.2 478.8,398.3 479.6,398.0 480.4,398.2 481.2,396.4 482.0,396.7 482.9,395.2 483.7,397.3 484.5,396.8 485.3,395.8 486.1,395.2 486.9,398.9 487.8,397.3 488.6,398.0 489.4,397.3 490.2,397.6 491.0,396.9 491.9,395.8 492.7,393.4 493.5,393.3 494.3,390.1 495.1,390.6 495.9,389.5 496.7,390.3 497.5,388.5 498.3,387.9 499.1,388.7 499.9,387.4 500.7,387.8 501.6,386.6 502.4,386.4 503.2,385.1 504.0,384.2 504.8,385.4 505.6,384.0 506.4,384.0 507.3,387.3 508.1,384.6 508.9,387.2 509.7,386.1 510.5,382.6 511.4,384.7 512.2,384.3 513.0,382.3 513.8,384.0 514.6,385.6 515.5,384.1 516.3,386.8 517.1,388.1 517.9,390.0 518.7,390.6 519.5,391.2 520.4,390.7 521.2,392.5 522.0,392.2 522.8,391.0 523.6,387.8 524.4,385.6 525.2,384.7 526.0,387.8 526.8,389.0 527.7,394.2 528.5,395.5 529.3,397.9 530.1,400.1 530.9,399.2 531.7,397.4 532.5,394.2 533.4,396.2 534.2,395.2 535.0,393.1 535.8,394.4 536.6,396.1 537.5,394.9 538.3,398.7 539.1,397.1 540.0,396.4 540.8,397.3 541.6,399.5 542.4,394.9 543.2,394.3 544.0,392.8 544.8,388.3 545.6,386.3 546.4,385.4 547.3,385.0 548.1,384.1 548.9,382.2 549.7,381.2 550.5,377.8 551.3,376.7 552.2,376.1 553.0,377.2 553.8,374.5 554.5,376.4 555.3,375.1 556.0,376.0 556.8,377.8 557.5,378.9 558.2,378.4 559.0,377.6 559.7,375.2 560.5,377.5 561.2,378.9 562.0,380.8 562.7,381.3 563.5,386.3 564.2,385.7 565.0,382.8 565.7,377.0 566.7,374.2 567.6,376.6 568.6,377.3 569.6,377.1 570.6,381.4 571.6,386.9 572.6,384.1 573.6,384.7 574.3,384.9 575.0,389.1 575.8,384.8 576.7,383.6 577.5,382.9 578.2,379.4 579.0,381.7 579.8,380.4 580.5,381.6 581.2,381.8 582.0,380.5 582.7,383.8 583.4,383.1 584.2,382.6 585.1,384.0 585.9,387.6 586.7,386.4 587.6,384.4 588.4,384.0" fill="none" stroke="#1b3a66" stroke-width="1.75" stroke-linejoin="round" stroke-linecap="round"/>
<polyline points="159.3,735.7 160.4,722.2 163.5,723.2 166.6,719.1 169.7,724.3 172.8,717 175.9,719.1 181.1,706.7 184.2,700.5 188.3,694.2 191.5,698.4 197.7,694.2 206,692.2 212.2,681.8 216.3,663.2 221.5,664.2 224.6,675.6 229.8,675.6 230.8,689.1 232.9,681.8 239.1,710.8 243.3,684.9 247.4,677.7 250.5,673.5 254.7,671.5 259.8,667.3 264.1,658 266.2,629 272.4,629 274.5,638.3 278.7,628 280.7,636.3 283.8,641.4 285.9,634.2 289,630.1 294.2,629 297.3,632.1 299.4,641.4 303.5,641.4 306.6,654.9 308.7,641.4 312.8,642.5 316,643.5 317,654.9 322.2,644.5 329.4,670.4 332.5,649.7 337.7,664.2 339.8,651.8 346,691.1 349.1,675.6 352.2,678.7 355.3,677.7 358.4,703.6 361.6,699.4 365.7,692.2 369.8,712.9 373,712.9 376.1,729.5 380.2,754.9 382.5,724.2 385.9,720.8 388.1,720.8 390.4,689.1 393.8,693.6 398.4,695.9 402.9,700.4 405.2,691.3 407.4,685.7 412,699.3 415.4,712.9 418.8,715.2 422.2,733.3 427.8,728.8 429,724.2 435.8,783.2 438.1,761.7 440.3,748 443.7,753.7 447.1,774.1 448.3,758.3 451.7,763.9 455.1,750.3 458.5,767.3 465.3,780.9 472.1,789.5 474.4,770.7 477.8,778.7 480,726.6 483.4,722.4 485.9,715.7 487.5,700.6 490.1,702.3 493.4,707.4 496.8,713.2 499.3,702.3 504.3,701.5 508.5,701.5 510.2,702.3 511.8,709.9 514.4,697.3 518.5,694 523.6,687.2 526.1,688.9 527.8,694.8 529.4,694 532,697.3 537,695.6 540.3,697.3 542,704 544.5,718.2 547.9,719.9 551.2,705.7 553.7,710.7 556.3,721.6 558.8,721.6 562.1,730 565.5,736.7 569.7,741.7 571.3,731.7 573.8,736.7 576.4,738.4 577.2,747.6 578.9,736.7 582.2,735 584.7,732.5 586.4,721.6 588.6,719.9" fill="none" stroke="#8fb0da" stroke-width="1.6" stroke-linejoin="round" stroke-linecap="round"/>
<polyline points="159.3,738.8 161.4,739.8 164.5,748.1 167.6,735.7 171.8,736.7 173.8,729.5 179,734.6 182.1,727.4 184.2,702.5 187.3,696.3 191.5,699.4 196.6,697.4 203.9,686 210.1,682.9 218.4,675.6 223.6,673.5 224.6,667.3 229.8,664.2 233.9,649.7 237,652.8 241.2,646.6 246.4,642.5 250.5,645.6 253.6,648.7 257.8,660.1 263,657 265.2,649.7 270.4,654.9 274.5,636.3 277.6,629 281.8,625.9 283.8,635.2 289,626.9 291.1,633.2 293.2,630.1 297.3,633.2 300.4,659 303.5,657 306.6,673.5 310.8,654.9 313.9,665.3 318,653.9 322.2,642.5 325.3,630.1 330.5,629 332.5,625.9 334.6,630.1 337.7,629 339.8,640.4 345,655.9 348.1,652.8 351.2,660.1 356.4,663.2 361.6,654.9 363.6,645.6 366.7,648.7 369.8,661.1 373.4,653.9 379.1,663 380.2,673.2 382.5,660.7 387,633.5 390.4,618.8 396.1,622.2 400.6,640.3 402.9,651.7 405.2,635.8 409.7,631.2 413.1,627.8 416.5,639.2 418.8,633.5 421,656.2 423.3,648.2 429,648.2 432.4,692.5 435.8,734.4 438.1,708.4 440.3,683.4 443.7,685.7 446,706.1 448.3,687.9 450.5,697 453.9,684.5 457.3,698.1 460.7,701.5 464.1,691.3 467.6,701.5 469.8,692.5 473.2,710.6 478.9,739 481.2,717.4 482.5,707.4 487.5,693.9 489.2,699.8 492.6,704 495.1,710.7 496.8,713.2 498.4,702.3 502.6,701.5 505.1,705.7 506,676.3 509.3,677.2 511,682.2 512.7,678.9 515.2,682.2 520.2,665.4 522.7,659.6 526.1,664.6 528.6,665.4 531.1,680.5 537,666.3 541.2,664.6 543.7,663.8 544.5,668.8 546.2,658.7 552.1,653.7 553.7,658.7 555.4,683 558.8,684.7 562.1,699 563.8,719.1 567.1,729.1 571.3,695.6 572.2,704 577.2,706.5 578.9,690.6 583.9,695.6 585.6,693.9 588.6,699" fill="none" stroke="#979797" stroke-width="2.0" stroke-linejoin="round" stroke-linecap="round"/>
<polyline points="159.3,740.8 161.4,746 163.5,763.6 166.2,765.7 167.6,748.1 168.7,762.6 172.8,757.4 173.8,750.2 174.9,757.4 178,733.6 181.1,727.4 184.2,698.4 188.3,689.1 190.4,695.3 192.5,693.2 196.6,695.3 198.7,679.8 201.8,686 204.9,695.3 208,679.8 210.1,672.5 213.2,672.5 216.3,657 219.4,652.8 222.5,648.7 224.6,643.5 227.7,638.3 230.8,647.7 232.9,635.2 238.1,630.1 240.2,621.8 243.3,625.9 246.4,618.7 248.4,629 251.6,611.4 255.7,606.2 257.8,617.6 263.1,607.3 265.2,609.3 267.3,604.2 271.4,605.2 272.4,594.8 275.5,588.6 278.7,583.5 280.7,589.7 281.8,583.5 283.8,613.5 286.9,607.3 291.1,609.3 295.2,591.7 298.3,614.5 302.5,611.4 304.6,626.9 308.7,606.2 312.8,610.4 316,599 320.1,608.3 322.2,592.8 324.2,591.7 329.4,606.2 331.5,590.7 334.6,600 338.8,596.9 341.9,618.7 346,628 349.1,610.4 354.3,636.3 355.3,638.3 361.6,599 363.6,601.1 366.7,592.8 369.8,630.1 372.3,617.6 374.5,631.2 379.1,674.3 382.5,619.9 385.9,612 388.1,610.8 389.3,595 391.6,591.5 393.8,584.7 396.1,592.7 398.4,595 402.9,617.6 405.2,605.2 408.6,598.4 410.8,591.5 413.1,584.7 415.4,590.4 417.6,585.9 419.9,585.9 422.2,612 424.4,601.8 429,599.5 432.4,632.4 435.8,685.7 438.1,651.7 439.2,635.8 442.6,642.6 444.9,656.2 448.3,638 449.4,657.3 453.9,639.2 458.5,651.7 464.1,640.3 467.6,653.9 472.1,682.3 474.4,660.7 477.8,678.9 481.2,663 483.4,653.7 486.7,638.6 487.5,642.8 490.1,636.9 493.4,641.1 495.9,647 497.6,635.3 500.9,631.1 502.6,630.2 504.3,636.9 506,621.9 509.3,621.9 511,631.1 511.8,622.7 514.4,627.7 518.5,626.9 521.9,633.6 523.2,624.4 526.1,635.3 528.6,626.9 530.3,642.8 534.5,644.5 536.1,631.1 537.8,635.3 540.3,633.6 542.8,631.1 544.5,641.1 547,622.7 548.7,621.9 551.2,617.7 553.7,621.9 555.4,637.8 558.8,636.9 561.3,650.4 563,654.5 567.1,681.4 568.8,660.4 571.3,652 573,658.7 577.2,664.6 578.9,653.7 583.9,654.5 585.6,647 586.4,652.9 588.6,653.4" fill="none" stroke="#234e84" stroke-width="2.1" stroke-linejoin="round" stroke-linecap="round"/>
<rect x="148" y="522.4" width="14.5" height="2.2" fill="#8faad3"/>
<rect x="249" y="522.6" width="14.8" height="2.2" fill="#7f7f7f"/>
<rect x="326.5" y="522.2" width="15" height="2.4" fill="#163f74"/>
<rect x="138" y="878.6" width="14.5" height="2.6" fill="#8faad3"/>
<rect x="239.5" y="878.8" width="14.5" height="2.8" fill="#7f7f7f"/>
<rect x="317.3" y="878.3" width="14.5" height="2.8" fill="#143f76"/>
<defs><clipPath id="lens"><circle cx="89.4" cy="951.7" r="9.6"/></clipPath></defs>
<g>
<path d="M84.9 935.3 H103.7 L110.3 941.9 V970.5 H84.9 Z" fill="#fdfdfd" stroke="#8e9cb0" stroke-width="0.9"/>
<path d="M103.7 935.3 V941.9 H110.3 Z" fill="#e8ecf2" stroke="#8e9cb0" stroke-width="0.8"/>
<rect x="87.6" y="944.3" width="20.6" height="22.6" fill="#dce5f1"/>

<rect x="87.6" y="945.90" width="20.6" height="1.0" fill="#7893b8"/>
<rect x="87.6" y="948.77" width="20.6" height="1.0" fill="#7893b8"/>
<rect x="87.6" y="951.64" width="20.6" height="1.0" fill="#7893b8"/>
<rect x="87.6" y="954.51" width="20.6" height="1.0" fill="#7893b8"/>
<rect x="87.6" y="957.38" width="20.6" height="1.0" fill="#7893b8"/>
<rect x="87.6" y="960.25" width="20.6" height="1.0" fill="#7893b8"/>
<rect x="87.6" y="963.12" width="20.6" height="1.0" fill="#7893b8"/>
<rect x="87.6" y="965.99" width="20.6" height="1.0" fill="#7893b8"/>
<g clip-path="url(#lens)"><rect x="78" y="940" width="24" height="24" fill="#eef1f6"/><rect x="87.6" y="943.5" width="14" height="20" fill="#a9bfdc"/>
<rect x="87.6" y="943.60" width="14" height="1.6" fill="#4d6f9e"/>
<rect x="87.6" y="946.55" width="14" height="1.6" fill="#4d6f9e"/>
<rect x="87.6" y="949.50" width="14" height="1.6" fill="#4d6f9e"/>
<rect x="87.6" y="952.45" width="14" height="1.6" fill="#4d6f9e"/>
<rect x="87.6" y="955.40" width="14" height="1.6" fill="#4d6f9e"/>
<rect x="87.6" y="958.35" width="14" height="1.6" fill="#4d6f9e"/>
<rect x="87.6" y="961.30" width="14" height="1.6" fill="#4d6f9e"/>
</g>
<circle cx="89.4" cy="951.7" r="9.7" fill="none" stroke="#a3abb7" stroke-width="1.2"/>
<path d="M80.2,959.2 L83.2,962.2 L68.6,976.8 Q66.5,978.2 65,976.6 Q63.6,975 65.2,973.4 Z" fill="#141414"/>
<line x1="80" y1="961" x2="82.2" y2="958.8" stroke="#c8c8c8" stroke-width="2.4"/>
<line x1="67" y1="974.2" x2="78" y2="963.2" stroke="#555" stroke-width="0.6"/>
</g>
</svg></body></html>
